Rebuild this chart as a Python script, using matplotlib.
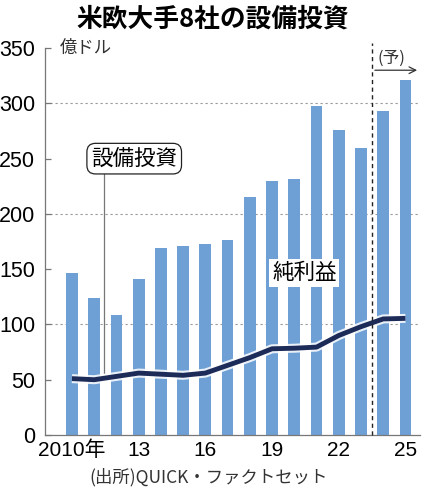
import matplotlib
matplotlib.use("Agg")
import matplotlib.pyplot as plt
import matplotlib.patheffects as pe
from matplotlib import font_manager

# ---- data ----
years = list(range(2010, 2026))
capex = [147, 124, 109, 141, 169, 171, 173, 176, 215, 230, 232, 298, 276, 260, 293, 321]
net_income = [51, 50, 53, 56, 55, 54, 56, 63, 70, 78, 78.5, 79.5, 90, 98, 105, 105.5]
xtick_years = [2010, 2013, 2016, 2019, 2022, 2025]
xtick_labels = ["2010年", "13", "16", "19", "22", "25"]
yticks = [0, 50, 100, 150, 200, 250, 300, 350]
gridvals = [100, 200, 300]

names = {f.name for f in font_manager.fontManager.ttflist}
num_font = "Liberation Sans Narrow" if "Liberation Sans Narrow" in names else "Liberation Sans"
jp = "Noto Sans CJK JP"
plt.rcParams['font.family'] = [jp, 'DejaVu Sans']

BAR = "#6fa0d5"
LINE = "#1c2b57"
GRAY = "#777777"

fig = plt.figure(figsize=(4.25, 4.96), dpi=100)
ax = fig.add_axes([0.106, 0.123, 0.882, 0.780])
ax.set_xlim(2008.79, 2025.65)
ax.set_ylim(0, 350)

for g in gridvals:
    ax.axhline(g, color="#999999", lw=0.8, ls=(0, (2, 2.5)), zorder=0)

ax.bar(years, capex, width=0.53, color=BAR, zorder=2)
ax.plot(years, net_income, color=LINE, lw=3.5, zorder=4, solid_capstyle='butt',
        path_effects=[pe.Stroke(linewidth=6.5, foreground="white", alpha=0.85), pe.Normal()])

for s in ["top", "right"]:
    ax.spines[s].set_visible(False)
ax.spines["left"].set_color(GRAY)
ax.spines["left"].set_linewidth(0.9)
ax.spines["bottom"].set_color(GRAY)
ax.spines["bottom"].set_linewidth(0.9)

ax.set_yticks(yticks)
ax.set_yticklabels([str(v) for v in yticks], fontfamily=num_font, fontsize=15.5)
ax.tick_params(axis='y', direction='in', length=4, width=0.9, color=GRAY, pad=7)
ax.set_xticks(xtick_years)
ax.set_xticklabels(xtick_labels, fontsize=15)
for lbl in ax.get_xticklabels():
    lbl.set_family([num_font, jp])
ax.tick_params(axis='x', length=0, pad=4)

# unit label
ax.text(2009.45, 350, "億ドル", fontsize=12.5, color="#333333", va="center", ha="left")

# forecast divider
ax.plot([2023.5, 2023.5], [0, 355], color="#222222", lw=1.0, ls=(0, (3, 2.5)), zorder=5, clip_on=False)
ax.annotate("", xy=(2025.65, 330), xytext=(2023.5, 330),
            arrowprops=dict(arrowstyle="->", color="#333333", lw=0.9, mutation_scale=12),
            annotation_clip=False)
ax.text(2024.35, 341, "(予)", fontsize=12, ha="center", va="center", color="#333333")

# capex label with pointer
ax.plot([2011.44, 2011.44], [56, 236], color=GRAY, lw=0.9, zorder=3)
ax.text(2012.8, 250, "設備投資", fontsize=15.5, ha="center", va="center", zorder=6,
        bbox=dict(boxstyle="round,pad=0.2,rounding_size=0.4", fc="white", ec="#222222", lw=0.9))

# net income label
ax.text(2020.45, 146.5, "純利益", fontsize=15.5, ha="center", va="center", zorder=6,
        bbox=dict(boxstyle="square,pad=0.12", fc="white", ec="none"))

fig.text(0.5, 0.962, "米欧大手8社の設備投資", fontsize=18.5, fontweight="bold",
         ha="center", va="center")
fig.text(0.49, 0.038, "(出所)QUICK・ファクトセット", fontsize=12.5, ha="center", va="center",
         color="#333333")

fig.savefig("out.png", dpi=100)
